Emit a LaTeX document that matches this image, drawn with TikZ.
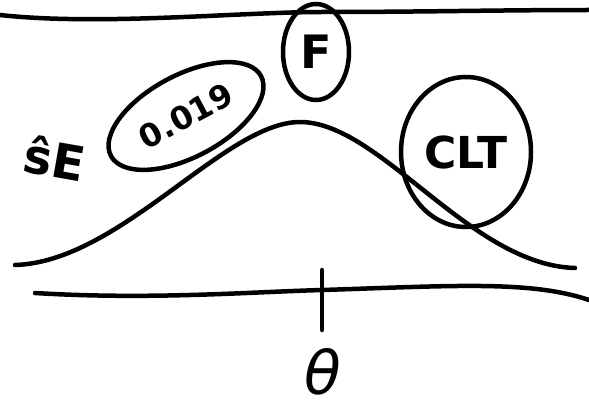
\documentclass[tikz,border=0pt]{standalone}
\usepackage{fontspec}
\setsansfont{DejaVu Sans}
\usetikzlibrary{shapes.geometric}
\tikzset{
  ink/.style={line width=4.5pt, line cap=round, line join=round, black},
  bubble/.style={ellipse, draw, line width=4.5pt, inner sep=0pt}
}
\begin{document}
\begin{tikzpicture}[x=1pt,y=-1pt]
\useasboundingbox (0,0) rectangle (589,412);
% top line
\coordinate (tl) at (0,15);
\coordinate (tm) at (322,12);
\coordinate (tr) at (589,10);
\draw[ink] (tl) .. controls (100,26) and (240,12) .. (tm) .. controls (420,12) and (500,10) .. (tr);
% bell curve
\coordinate (bl) at (15,265);
\coordinate (bp) at (300,122);
\coordinate (br) at (575,268);
\draw[ink] (bl) .. controls (120,262) and (225,122) .. (bp) .. controls (380,122) and (470,265) .. (br);
% axis
\coordinate (al) at (35,293);
\coordinate (am) at (322,290);
\coordinate (ar) at (589,300);
\draw[ink] (al) .. controls (150,300) and (250,292) .. (am) .. controls (450,286) and (530,280) .. (ar);
\coordinate (tt) at (322,270);
\coordinate (tb) at (322,330);
\draw[ink] (tt) -- (tb);
% labels
\node[font=\sffamily\itshape\fontsize{60}{60}\selectfont] (theta) at (323,372) {θ};
\node[font=\sffamily\bfseries\fontsize{48}{48}\selectfont, rotate=-10] (se) at (55,158) {ŝE};
\node[bubble, minimum width=170pt, minimum height=82pt, rotate=28] (num) at (186,116) {};
\node[font=\sffamily\bfseries\fontsize{32}{32}\selectfont, rotate=28] (numtext) at (num.center) {0.019};
\node[bubble, minimum width=66pt, minimum height=96pt, font=\sffamily\bfseries\fontsize{46}{46}\selectfont] (f) at (316,52) {F};
\node[bubble, minimum width=130pt, minimum height=150pt, font=\sffamily\bfseries\fontsize{44}{44}\selectfont] (clt) at (466,152) {CLT};
\end{tikzpicture}
\end{document}
